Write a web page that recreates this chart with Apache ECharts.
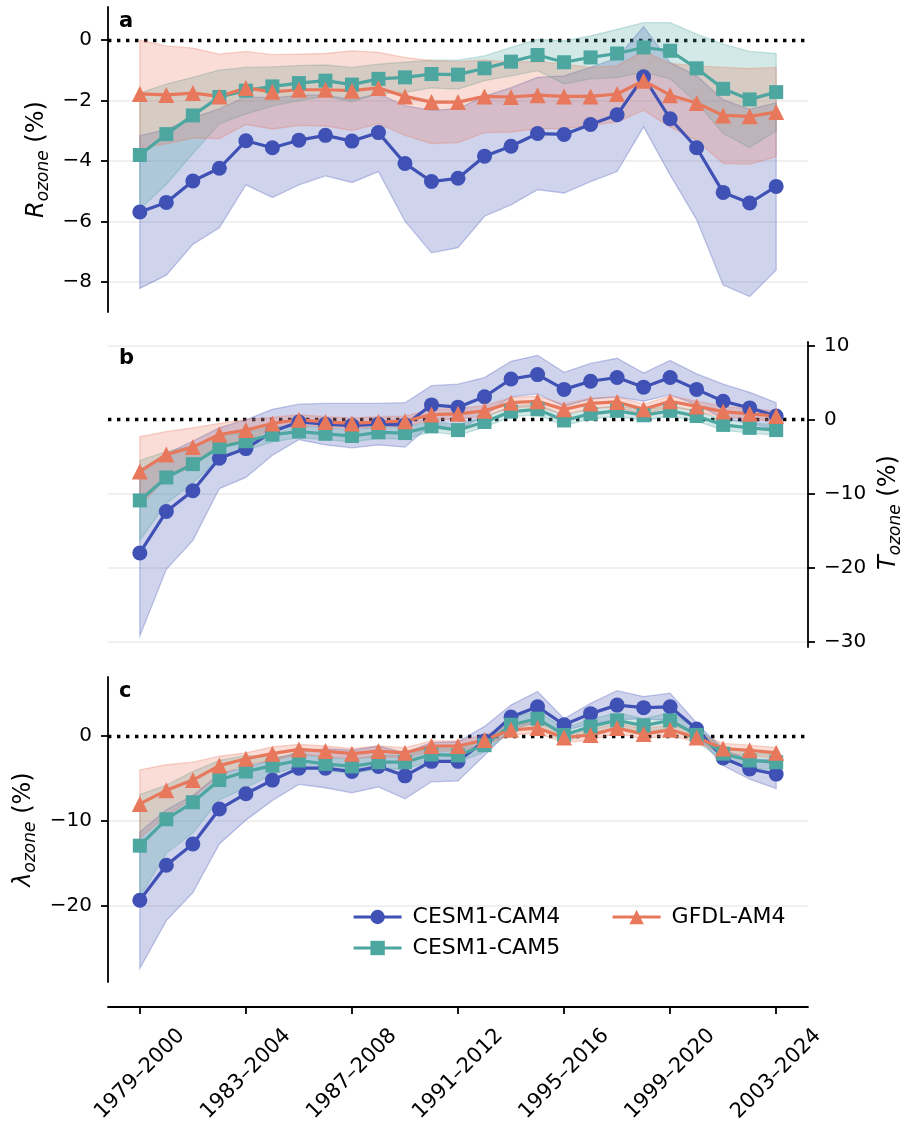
<!DOCTYPE html>
<html>
<head>
<meta charset="utf-8">
<script src="https://cdn.jsdelivr.net/npm/echarts@6/dist/echarts.min.js"></script>
<style>
  html, body { margin: 0; padding: 0; background: #fff; }
  #chart { width: 907px; height: 1129px; }
</style>
</head>
<body>
<div id="chart"></div>
<script>
// Running 22-year windows
const periods = [
  '1979–2000', '1980–2001', '1981–2002', '1982–2003', '1983–2004',
  '1984–2005', '1985–2006', '1986–2007', '1987–2008', '1988–2009',
  '1989–2010', '1990–2011', '1991–2012', '1992–2013', '1993–2014',
  '1994–2015', '1995–2016', '1996–2017', '1997–2018', '1998–2019',
  '1999–2020', '2000–2021', '2001–2022', '2002–2023', '2003–2024'
];
const periodTicks = [0, 4, 8, 12, 16, 20, 24];

// Panel a: R_ozone (%)
const aCam4   = [-5.69, -5.37, -4.66, -4.24, -3.33, -3.56, -3.31, -3.15, -3.34, -3.06, -4.08, -4.68, -4.57, -3.84, -3.51, -3.09, -3.12, -2.79, -2.47, -1.21, -2.60, -3.56, -5.04, -5.39, -4.84];
const aCam4Hi = [-3.16, -2.96, -2.56, -2.27, -1.87, -1.91, -1.83, -1.81, -1.97, -1.77, -2.17, -2.32, -2.27, -1.85, -1.57, -1.23, -1.18, -0.90, -0.59, 0.45, -0.74, -1.18, -1.97, -2.29, -2.07];
const aCam4Lo = [-8.22, -7.78, -6.76, -6.21, -4.79, -5.21, -4.79, -4.49, -4.71, -4.35, -5.99, -7.04, -6.87, -5.83, -5.45, -4.95, -5.06, -4.68, -4.35, -2.87, -4.46, -5.94, -8.11, -8.49, -7.61];
const aCam5   = [-3.80, -3.11, -2.49, -1.88, -1.67, -1.53, -1.42, -1.34, -1.47, -1.28, -1.23, -1.12, -1.14, -0.93, -0.71, -0.49, -0.73, -0.57, -0.44, -0.24, -0.35, -0.93, -1.61, -1.96, -1.72];
const aCam5Hi = [-1.75, -1.45, -1.23, -0.99, -0.90, -0.88, -0.84, -0.82, -0.90, -0.79, -0.73, -0.66, -0.66, -0.52, -0.24, 0.03, -0.02, 0.14, 0.36, 0.58, 0.58, 0.20, -0.13, -0.37, -0.44];
const aCam5Lo = [-5.60, -4.77, -3.75, -2.77, -2.44, -2.18, -2.00, -1.86, -2.04, -1.77, -1.73, -1.58, -1.62, -1.34, -1.18, -1.01, -1.44, -1.28, -1.24, -1.06, -1.28, -2.06, -3.09, -3.55, -3.00];
const aGfdl   = [-1.78, -1.81, -1.75, -1.86, -1.58, -1.71, -1.64, -1.64, -1.67, -1.58, -1.86, -2.05, -2.05, -1.86, -1.88, -1.82, -1.86, -1.86, -1.78, -1.34, -1.82, -2.08, -2.49, -2.52, -2.38];
const aGfdlHi = [0.00, -0.19, -0.26, -0.46, -0.37, -0.48, -0.46, -0.44, -0.35, -0.40, -0.57, -0.68, -0.71, -0.66, -0.72, -0.71, -0.79, -0.90, -0.85, -0.36, -0.77, -0.85, -0.90, -0.94, -0.90];
const aGfdlLo = [-3.56, -3.43, -3.24, -3.26, -2.79, -2.94, -2.82, -2.84, -2.99, -2.76, -3.15, -3.42, -3.39, -3.06, -3.04, -2.93, -2.93, -2.82, -2.71, -2.32, -2.87, -3.31, -4.08, -4.10, -3.86];

// Panel b: T_ozone (%)
const bCam4   = [-18.0, -12.4, -9.6, -5.2, -3.9, -1.6, -0.3, -0.6, -0.8, -0.6, -0.7, 2.0, 1.7, 3.1, 5.5, 6.1, 4.1, 5.2, 5.7, 4.4, 5.7, 4.1, 2.5, 1.6, 0.5];
const bCam4Hi = [-6.8, -4.6, -2.9, -1.1, 0.0, 1.4, 2.1, 2.2, 2.2, 2.2, 2.3, 4.6, 4.8, 5.7, 7.9, 8.7, 6.4, 7.6, 8.3, 6.3, 8.0, 6.2, 4.8, 3.7, 2.3];
const bCam4Lo = [-29.2, -20.2, -16.3, -9.3, -7.8, -4.8, -2.7, -3.4, -3.8, -3.4, -3.7, -0.6, -1.4, 0.5, 3.1, 3.5, 1.8, 2.8, 3.1, 2.5, 3.4, 2.0, 0.2, -0.5, -1.3];
const bCam5   = [-10.9, -7.8, -6.0, -3.7, -2.9, -2.0, -1.6, -1.9, -2.2, -1.7, -1.8, -0.9, -1.4, -0.3, 1.1, 1.4, -0.1, 0.8, 1.2, 0.6, 1.2, 0.5, -0.7, -1.1, -1.4];
const bCam5Hi = [-5.5, -4.3, -3.5, -2.2, -1.7, -1.0, -0.8, -1.1, -1.4, -0.9, -1.0, -0.2, -0.7, 0.4, 1.8, 2.1, 0.6, 1.5, 1.9, 1.3, 1.9, 1.2, 0.0, -0.4, -0.7];
const bCam5Lo = [-16.3, -11.3, -8.5, -5.2, -4.1, -3.0, -2.4, -2.7, -3.0, -2.5, -2.6, -1.6, -2.1, -1.0, 0.4, 0.7, -0.8, 0.1, 0.5, -0.1, 0.5, -0.2, -1.4, -1.8, -2.1];
const bGfdl   = [-7.0, -4.7, -3.7, -2.0, -1.4, -0.5, 0.0, -0.3, -0.5, -0.3, -0.2, 0.7, 0.8, 1.2, 2.3, 2.5, 1.4, 2.2, 2.4, 1.4, 2.5, 1.8, 1.1, 0.8, 0.5];
const bGfdlHi = [-2.3, -1.6, -1.1, -0.5, 0.0, 0.3, 0.7, 0.4, 0.2, 0.4, 0.5, 1.4, 1.5, 1.9, 3.0, 3.2, 2.1, 2.9, 3.1, 2.1, 3.2, 2.5, 1.8, 1.5, 1.2];
const bGfdlLo = [-11.7, -7.8, -6.3, -3.5, -2.8, -1.3, -0.7, -1.0, -1.2, -1.0, -0.9, 0.0, 0.1, 0.5, 1.6, 1.8, 0.7, 1.5, 1.7, 0.7, 1.8, 1.1, 0.4, 0.1, -0.2];

// Panel c: lambda_ozone (%)
const cCam4   = [-19.3, -15.2, -12.7, -8.6, -6.8, -5.2, -3.8, -3.8, -4.2, -3.6, -4.7, -3.0, -3.0, -0.6, 2.2, 3.4, 1.3, 2.6, 3.6, 3.3, 3.4, 0.8, -2.6, -3.9, -4.5];
const cCam4Hi = [-11.3, -8.7, -7.0, -4.5, -3.7, -2.8, -1.9, -1.5, -1.7, -1.2, -2.0, -0.8, -0.7, 1.1, 3.6, 5.2, 2.0, 3.8, 5.3, 4.6, 5.0, 1.5, -1.7, -2.7, -2.8];
const cCam4Lo = [-27.3, -21.7, -18.4, -12.7, -9.9, -7.6, -5.7, -6.1, -6.7, -6.0, -7.4, -5.4, -5.3, -2.3, 0.8, 1.6, 0.6, 1.4, 1.9, 2.0, 1.8, 0.1, -3.5, -5.1, -6.2];
const cCam5   = [-12.9, -9.8, -7.8, -5.2, -4.2, -3.5, -2.9, -3.3, -3.6, -3.1, -3.1, -2.2, -2.3, -1.1, 1.3, 2.0, 0.1, 1.1, 1.8, 1.2, 1.8, 0.1, -2.1, -2.9, -3.1];
const cCam5Hi = [-6.9, -5.8, -4.2, -2.9, -2.3, -2.5, -2.2, -2.5, -2.8, -2.3, -2.3, -1.4, -1.5, -0.3, 2.1, 2.9, 0.9, 1.9, 2.7, 2.0, 2.7, 0.9, -1.3, -2.0, -2.2];
const cCam5Lo = [-18.9, -13.8, -11.4, -7.5, -6.1, -4.5, -3.6, -4.1, -4.4, -3.9, -3.9, -3.0, -3.1, -1.9, 0.5, 1.1, -0.7, 0.3, 0.9, 0.4, 0.9, -0.7, -2.9, -3.8, -4.0];
const cGfdl   = [-8.0, -6.4, -5.2, -3.5, -2.7, -2.1, -1.6, -1.8, -2.1, -1.8, -2.0, -1.2, -1.2, -0.5, 0.7, 0.9, -0.2, 0.1, 0.9, 0.2, 0.7, -0.2, -1.5, -1.7, -2.0];
const cGfdlHi = [-4.0, -3.4, -3.1, -2.4, -2.0, -1.3, -1.0, -1.2, -1.5, -1.2, -1.4, -0.6, -0.6, 0.1, 1.3, 1.5, 0.4, 0.7, 1.5, 0.8, 1.3, 0.4, -0.9, -1.1, -1.4];
const cGfdlLo = [-12.0, -9.4, -7.3, -4.6, -3.4, -2.9, -2.2, -2.4, -2.7, -2.4, -2.6, -1.8, -1.8, -1.1, 0.1, 0.3, -0.8, -0.5, 0.3, -0.4, 0.1, -0.8, -2.1, -2.3, -2.6];

// Axis ticks / gridlines
const aTicks = [-8, -6, -4, -2, 0];
const bTicks = [-30, -20, -10, 0, 10];
const cTicks = [-20, -10, 0];

const FONT = 'DejaVu Sans';
const MODELS = [
  { name: 'CESM1-CAM4', color: '#3f51b5', rgb: '63,81,181', symbol: 'circle', size: 15 },
  { name: 'CESM1-CAM5', color: '#4da6a0', rgb: '77,166,160', symbol: 'rect', size: 14 },
  { name: 'GFDL-AM4', color: '#e8785c', rgb: '232,120,92', symbol: 'triangle', size: 16 },
];

const PANELS = [
  { mean: [aCam4, aCam5, aGfdl], hi: [aCam4Hi, aCam5Hi, aGfdlHi], lo: [aCam4Lo, aCam5Lo, aGfdlLo],
    ticks: aTicks, min: -9.0, max: 1.1, pos: 'left', top: 7, label: 'a', labelTop: 11, namePad: 0,
    name: '{it|R}{sub|ozone}{n| (%)}' },
  { mean: [bCam4, bCam5, bGfdl], hi: [bCam4Hi, bCam5Hi, bGfdlHi], lo: [bCam4Lo, bCam5Lo, bGfdlLo],
    ticks: bTicks, min: -30.7, max: 10.5, pos: 'right', top: 342, label: 'b', labelTop: 348, namePad: 36,
    name: '{it|T}{sub|ozone}{n| (%)}' },
  { mean: [cCam4, cCam5, cGfdl], hi: [cCam4Hi, cCam5Hi, cGfdlHi], lo: [cCam4Lo, cCam5Lo, cGfdlLo],
    ticks: cTicks, min: -28.9, max: 6.9, pos: 'left', top: 677, label: 'c', labelTop: 681, namePad: 0,
    name: '{it|λ}{sub|ozone}{n| (%)}' },
];

const fmtMinus = (v) => String(v).replace('-', '\u2212');

const axisLineStyle = { color: '#000', width: 1.8 };

// outerBoundsMode 'none' keeps the grids at fixed pixel boxes
const grids = PANELS.map(p => ({
  left: 108, right: 99, top: p.top, height: 305, outerBoundsMode: 'none', containLabel: false,
}));

const xAxes = PANELS.map((p, k) => {
  const last = k === PANELS.length - 1;
  return {
    type: 'value',
    gridIndex: k,
    min: -1.2,
    max: 25.2,
    show: last,
    position: 'bottom',
    offset: 25,
    splitLine: { show: false },
    axisLine: { show: last, onZero: false, lineStyle: axisLineStyle },
    axisTick: { show: last, customValues: periodTicks, length: 7, lineStyle: axisLineStyle },
    axisLabel: {
      show: last,
      customValues: periodTicks,
      formatter: (v) => periods[v],
      rotate: 45,
      align: 'center',
      verticalAlign: 'middle',
      margin: 67,
      fontSize: 21,
      fontFamily: FONT,
      color: '#000',
    },
  };
});

const richName = {
  it: { fontSize: 24, fontStyle: 'italic', fontFamily: FONT, color: '#000' },
  sub: { fontSize: 17, fontStyle: 'italic', fontFamily: FONT, color: '#000', padding: [13, 0, 0, 0] },
  n: { fontSize: 24, fontFamily: FONT, color: '#000' },
};

const yAxes = PANELS.map((p, k) => ({
  type: 'value',
  gridIndex: k,
  position: p.pos,
  min: p.min,
  max: p.max,
  name: p.name,
  nameLocation: 'middle',
  nameRotate: 90,
  nameGap: p.pos === 'left' ? 56 : 60,
  nameTextStyle: {
    fontSize: 24, fontFamily: FONT, color: '#000', rich: richName,
    padding: [0, p.namePad, 0, 0],
  },
  splitLine: { show: false },
  axisLine: { show: true, onZero: false, lineStyle: axisLineStyle },
  axisTick: { show: true, customValues: p.ticks, length: 7, lineStyle: axisLineStyle },
  axisLabel: {
    customValues: p.ticks,
    formatter: fmtMinus,
    margin: 16,
    fontSize: 20,
    fontFamily: FONT,
    color: '#000',
  },
}));

// Shaded spread, drawn as one polygon per model
const bandSeries = (lo, hi, model, k) => ({
  type: 'custom',
  xAxisIndex: k,
  yAxisIndex: k,
  silent: true,
  z: 1,
  data: [0],
  renderItem: (params, api) => {
    const top = hi.map((v, i) => api.coord([i, v]));
    const bottom = lo.map((v, i) => api.coord([i, v])).reverse();
    return {
      type: 'polygon',
      shape: { points: top.concat(bottom) },
      style: {
        fill: `rgba(${model.rgb},0.25)`,
        stroke: `rgba(${model.rgb},0.3)`,
        lineWidth: 1.3,
      },
    };
  },
});

// Gridlines and dotted zero line
const refSeries = (p, k) => ({
  type: 'line',
  xAxisIndex: k,
  yAxisIndex: k,
  data: [],
  silent: true,
  markLine: {
    silent: true,
    symbol: 'none',
    label: { show: false },
    z: 0,
    data: p.ticks.filter(t => t !== 0).map(t => ({
      yAxis: t,
      lineStyle: { color: '#ebebeb', width: 1.5, type: 'solid' },
    })).concat([{
      yAxis: 0,
      lineStyle: { color: '#000', width: 3.4, type: [3.4, 5.6], cap: 'butt' },
    }]),
  },
});

const lineSeries = (values, model, k) => ({
  name: model.name,
  type: 'line',
  xAxisIndex: k,
  yAxisIndex: k,
  z: 3,
  data: values.map((v, i) => [i, v]),
  symbol: model.symbol,
  symbolSize: model.size,
  showAllSymbol: true,
  itemStyle: { color: model.color },
  lineStyle: { color: model.color, width: 3.2 },
  emphasis: { disabled: true },
});

const series = [];
PANELS.forEach((p, k) => {
  MODELS.forEach((m, j) => series.push(bandSeries(p.lo[j], p.hi[j], m, k)));
  series.push(refSeries(p, k));
  MODELS.forEach((m, j) => series.push(lineSeries(p.mean[j], m, k)));
});

const legendBase = {
  orient: 'vertical',
  top: 901,
  itemWidth: 48,
  itemHeight: 18,
  itemGap: 9,
  selectedMode: false,
  lineStyle: { width: 3.2 },
  textStyle: { fontSize: 22, fontFamily: FONT, color: '#000', padding: [0, 0, 0, 6] },
};

const chart = echarts.init(document.getElementById('chart'), null, { renderer: 'canvas' });
chart.setOption({
  animation: false,
  backgroundColor: '#fff',
  title: PANELS.map(p => ({
    text: p.label,
    left: 119,
    top: p.labelTop,
    padding: 0,
    textStyle: { fontSize: 21, fontWeight: 'bold', fontFamily: FONT, color: '#000' },
  })),
  legend: [
    Object.assign({}, legendBase, { left: 347, data: ['CESM1-CAM4', 'CESM1-CAM5'] }),
    Object.assign({}, legendBase, { left: 606, data: ['GFDL-AM4'] }),
  ],
  grid: grids,
  xAxis: xAxes,
  yAxis: yAxes,
  series: series,
});
</script>
</body>
</html>
